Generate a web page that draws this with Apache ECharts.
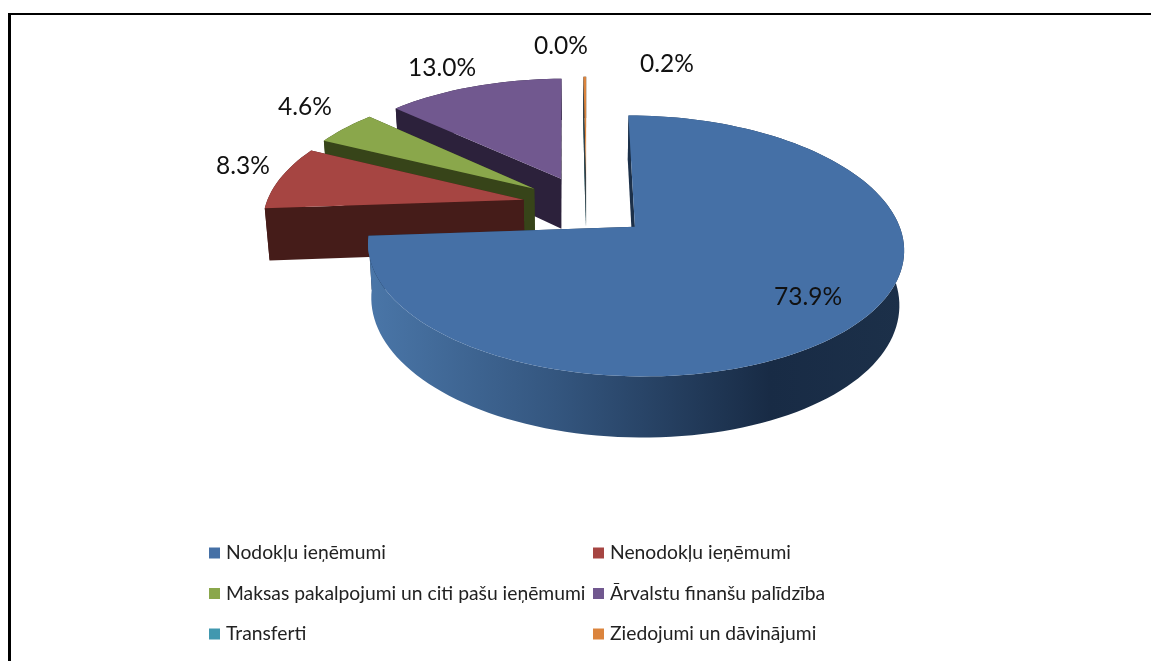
<!DOCTYPE html>
<html>
<head>
<meta charset="utf-8">
<style>html,body{margin:0;padding:0;background:#fff}#chart{width:1151px;height:661px}</style>
<script src="https://cdn.jsdelivr.net/npm/echarts@6/dist/echarts.min.js"></script>
</head>
<body>
<div id="chart"></div>
<script>
var categories = ['Nodokļu ieņēmumi','Nenodokļu ieņēmumi','Maksas pakalpojumi un citi pašu ieņēmumi','Ārvalstu finanšu palīdzība','Transferti','Ziedojumi un dāvinājumi'];
var shares = [73.9,8.3,4.6,13.0,0.0,0.2];
var topColors = ['#4570a6','#a64542','#8aa74b','#71588f','#4198af','#db843d'];
var sideColors = ['#1c3049','#451c19','#374419','#2c213b','#1f4a56','#3a3f44'];
var labelSpots = [[808,297],[243,166],[305,107],[442,68],[561,46],[667,64]];
var drawOrder = [4,5,3,2,1,0];//后面的先画

var startDeg = 0;
var pie = {x:586.5,y:205.6,rx:258,ry:121.5,px:0.15,py:0.143,explode:0.25,depth:52,depthSlope:10.7,shrink:0.985};

function project(u,v,low){
	var x = pie.rx*u/(1+pie.px*v), y = pie.ry*v/(1+pie.py*v);
	if(low){
		return [pie.x+x*pie.shrink, pie.y-y*0.98+pie.depth-pie.depthSlope*v];
	}
	return [pie.x+x, pie.y-y];
}
function sliceBounds(i){
	var from = startDeg;
	for(var k=0;k<i;k++){from += shares[k]*3.6;}
	return [from, from+shares[i]*3.6];
}
function slicePoints(i,low){
	var b = sliceBounds(i), mid = (b[0]+b[1])/2*Math.PI/180;
	var cu = pie.explode*Math.sin(mid), cv = pie.explode*Math.cos(mid);
	var steps = Math.max(2,Math.ceil((b[1]-b[0])/2)), arc = [];
	for(var s=0;s<=steps;s++){
		var a = (b[0]+(b[1]-b[0])*s/steps)*Math.PI/180;
		arc.push(project(cu+Math.sin(a),cv+Math.cos(a),low));
	}
	return {apex:project(cu,cv,low),arc:arc};
}
function renderSlice(i){
	return function(){
		var up = slicePoints(i,false), low = slicePoints(i,true), kids = [];
		var last = up.arc.length-1, side = sideColors[i];
		var wall = up.arc.concat(low.arc.slice().reverse());
		var wallFill = side;
		if(i===0){//蓝色块侧面渐变
			wallFill = new echarts.graphic.LinearGradient(0,0,1,0,[
				{offset:0,color:'#4a76a8'},{offset:0.35,color:'#34567f'},{offset:0.75,color:'#182b45'},{offset:1,color:'#1c3049'}
			]);
		}
		kids.push({type:'polygon',shape:{points:[up.apex,up.arc[last],low.arc[last],low.apex]},style:{fill:side}});
		kids.push({type:'polygon',shape:{points:wall},style:{fill:wallFill}});
		kids.push({type:'polygon',shape:{points:[up.apex,up.arc[0],low.arc[0],low.apex]},style:{fill:side}});
		kids.push({type:'polygon',shape:{points:[up.apex].concat(up.arc)},style:{fill:topColors[i]}});
		return {type:'group',children:kids};
	};
}
function labelSeries(){
	return {
		type:'custom',coordinateSystem:'none',silent:true,z:20,
		data:shares,
		renderItem:function(params){
			var i = params.dataIndex;
			return {type:'text',style:{
				x:labelSpots[i][0],y:labelSpots[i][1],text:shares[i].toFixed(1)+'%',
				font:'24.5px Lato',fill:'#111',align:'center',verticalAlign:'middle'
			}};
		}
	};
}
var series = [];
drawOrder.forEach(function(i,n){
	series.push({
		name:categories[i],type:'custom',coordinateSystem:'none',silent:true,z:2+n,
		itemStyle:{color:topColors[i]},
		data:[shares[i]],
		renderItem:renderSlice(i)
	});
});
series.push(labelSeries());

var legendText = {fontFamily:'Lato',fontSize:19.3,lineHeight:20,color:'#222',padding:[0,0,0,1]};
var chart = echarts.init(document.getElementById('chart'));
chart.setOption({
	animation:false,
	backgroundColor:'#fff',
	legend:[
		{left:204,top:538,orient:'vertical',icon:'rect',itemWidth:11,itemHeight:11,itemGap:20.5,selectedMode:false,textStyle:legendText,data:[categories[0],categories[2],categories[4]]},
		{left:588,top:538,orient:'vertical',icon:'rect',itemWidth:11,itemHeight:11,itemGap:20.5,selectedMode:false,textStyle:legendText,data:[categories[1],categories[3],categories[5]]}
	],
	graphic:[
		{type:'rect',silent:true,z:100,shape:{x:8,y:13,width:1143,height:2},style:{fill:'#000'}},
		{type:'rect',silent:true,z:100,shape:{x:8,y:13,width:3,height:648},style:{fill:'#000'}}
	],
	series:series
});
</script>
</body>
</html>
